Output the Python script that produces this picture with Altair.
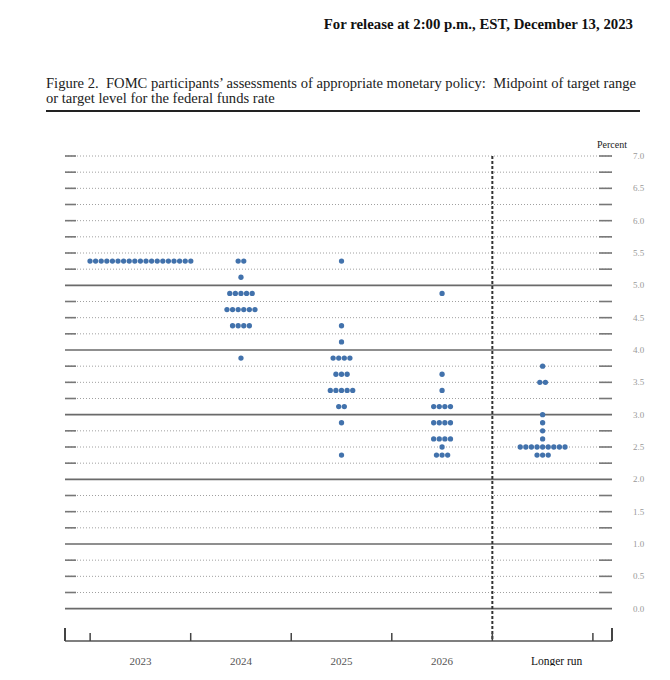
import altair as alt
import pandas as pd
import numpy as np

# ---- data ----
years = ["2023", "2024", "2025", "2026", "Longer run"]
rates_2023 = [5.375]
counts_2023 = [19]
rates_2024 = [5.375, 5.125, 4.875, 4.625, 4.375, 3.875]
counts_2024 = [2, 1, 5, 6, 4, 1]
rates_2025 = [5.375, 4.375, 4.125, 3.875, 3.625, 3.375, 3.125, 2.875, 2.375]
counts_2025 = [1, 1, 1, 4, 3, 5, 2, 1, 1]
rates_2026 = [4.875, 3.625, 3.375, 3.125, 2.875, 2.625, 2.5, 2.375]
counts_2026 = [1, 1, 1, 4, 4, 4, 1, 3]
rates_lr = [3.75, 3.5, 3.0, 2.875, 2.75, 2.625, 2.5, 2.375]
counts_lr = [1, 2, 1, 1, 1, 1, 9, 3]

y_labels = [0.0, 0.5, 1.0, 1.5, 2.0, 2.5, 3.0, 3.5, 4.0, 4.5, 5.0, 5.5, 6.0, 6.5, 7.0]
solid_levels = [0, 1, 2, 3, 4, 5]

header = "For release at 2:00 p.m., EST, December 13, 2023"
NB = "\u00a0"
title1 = "Figure 2." + NB + NB + "FOMC participants\u2019 assessments of appropriate monetary policy:" + NB + NB + "Midpoint of target range"
title2 = "or target level for the federal funds rate"

# ---- build tables ----
W, H = 547, 485
XMIN, XMAX = -0.75, 4.69
px_per_unit = W / (XMAX - XMIN)
dot_gap = 5.6 / px_per_unit

series = [(rates_2023, counts_2023), (rates_2024, counts_2024), (rates_2025, counts_2025),
          (rates_2026, counts_2026), (rates_lr, counts_lr)]
rows = []
for i, (rs, cs) in enumerate(series):
    for r, c in zip(rs, cs):
        for k in range(c):
            rows.append({"year": years[i], "rate": r, "xpos": i + (k - (c - 1) / 2) * dot_gap})
dots = pd.DataFrame(rows)

levels = [round(v, 2) for v in np.arange(0, 7.001, 0.25)]
grid = pd.DataFrame({"level": levels, "solid": [lv in solid_levels for lv in levels]})
grid_solid = grid[grid.solid]
grid_dot = grid[~grid.solid]

bounds = pd.DataFrame({"b": [i - 0.5 for i in range(len(years) + 1)]})
labels_df = pd.DataFrame({"year": years, "idx": list(range(len(years)))})
ylab_df = pd.DataFrame({"v": y_labels, "t": [f"{v:.1f}" for v in y_labels]})

xs = alt.Scale(domain=[XMIN, XMAX], nice=False, zero=False)
ys = alt.Scale(domain=[-0.5, 7.0], nice=False, zero=False)
SERIF = "Liberation Serif"

dot_layer = alt.Chart(dots).mark_circle(size=28, color="#4272ac", opacity=1).encode(
    x=alt.X("xpos:Q", scale=xs, axis=None),
    y=alt.Y("rate:Q", scale=ys, axis=None),
)

dotted = alt.Chart(grid_dot).mark_rule(color="#a0a0a0", strokeWidth=1, strokeDash=[1, 2]).encode(
    y=alt.Y("level:Q", scale=ys, axis=None), x=alt.value(0), x2=alt.value(W))
left_ticks = alt.Chart(grid_dot).mark_rule(color="#777777", strokeWidth=1.6).encode(
    y=alt.Y("level:Q", scale=ys, axis=None), x=alt.value(0), x2=alt.value(11))
right_ticks = alt.Chart(grid_dot).mark_rule(color="#777777", strokeWidth=1.6).encode(
    y=alt.Y("level:Q", scale=ys, axis=None), x=alt.value(W - 13), x2=alt.value(W))
solid = alt.Chart(grid_solid).mark_rule(color="#6a6a6a", strokeWidth=1.6).encode(
    y=alt.Y("level:Q", scale=ys, axis=None), x=alt.value(0), x2=alt.value(W))

ylab = alt.Chart(ylab_df).mark_text(
    font=SERIF, fontSize=9, color="#999999", align="left", baseline="middle").encode(
    y=alt.Y("v:Q", scale=ys, axis=None), x=alt.value(W + 21), text="t:N")
ytitle = alt.Chart(pd.DataFrame({"t": ["Percent"]})).mark_text(
    font=SERIF, fontSize=10, color="#222222", align="center", baseline="middle").encode(
    x=alt.value(W), y=alt.value(-11), text="t:N")

vline = alt.Chart(pd.DataFrame({"b": [len(years) - 1.5]})).mark_rule(
    color="#333333", strokeWidth=2, strokeDash=[3, 2]).encode(
    x=alt.X("b:Q", scale=xs, axis=None), y=alt.value(0), y2=alt.value(H))

baseline = alt.Chart(pd.DataFrame({"b": [0]})).mark_rule(color="#555555", strokeWidth=1.5).encode(
    y=alt.value(H), x=alt.value(0), x2=alt.value(W))
xticks = alt.Chart(bounds).mark_rule(color="#444444", strokeWidth=1.5).encode(
    x=alt.X("b:Q", scale=xs, axis=None), y=alt.value(H - 8), y2=alt.value(H))
end_ticks = alt.Chart(pd.DataFrame({"b": [XMIN, XMAX]})).mark_rule(color="#444444", strokeWidth=2).encode(
    x=alt.X("b:Q", scale=xs, axis=None), y=alt.value(H - 13), y2=alt.value(H))

xlab = alt.Chart(labels_df[labels_df.idx < 4]).mark_text(
    font=SERIF, fontSize=11, color="#555555", baseline="middle").encode(
    x=alt.X("idx:Q", scale=xs, axis=None), y=alt.value(H + 21), text="year:N")
xlab_lr = alt.Chart(labels_df[labels_df.idx == 4]).mark_text(
    font=SERIF, fontSize=11.5, color="#111111", baseline="middle", dx=14).encode(
    x=alt.X("idx:Q", scale=xs, axis=None), y=alt.value(H + 21), text="year:N")

hdr = alt.Chart(pd.DataFrame({"t": [header]})).mark_text(
    font=SERIF, fontSize=14.8, fontWeight="bold", color="#111111", align="right", baseline="middle").encode(
    x=alt.value(568), y=alt.value(-131), text="t:N")
t1 = alt.Chart(pd.DataFrame({"t": [title1]})).mark_text(
    font=SERIF, fontSize=14.6, color="#222222", align="left", baseline="middle").encode(
    x=alt.value(-19), y=alt.value(-72), text="t:N")
t2 = alt.Chart(pd.DataFrame({"t": [title2]})).mark_text(
    font=SERIF, fontSize=14.6, color="#222222", align="left", baseline="middle").encode(
    x=alt.value(-19), y=alt.value(-57), text="t:N")
trule = alt.Chart(pd.DataFrame({"t": [0]})).mark_rule(color="#222222", strokeWidth=2).encode(
    y=alt.value(-45), x=alt.value(-19), x2=alt.value(575))

chart = alt.layer(
    dotted, left_ticks, right_ticks, solid, vline, baseline, xticks, end_ticks,
    ylab, ytitle, xlab, xlab_lr, hdr, t1, t2, trule, dot_layer
).properties(
    width=W, height=H,
    autosize=alt.AutoSizeParams(type="none"),
    padding={"left": 57, "top": 148, "right": 50, "bottom": 25},
    background="white",
).configure_view(stroke=None)

chart.save("out.html", embed_options={"renderer": "svg", "actions": False})
